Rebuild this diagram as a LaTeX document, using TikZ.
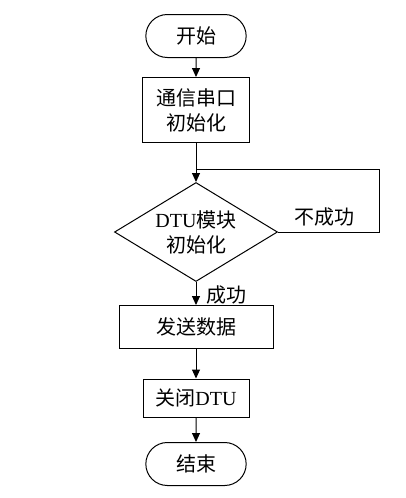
\documentclass[tikz,border=0pt]{standalone}
\usepackage{fontspec}
\setmainfont{Liberation Serif}
\newfontfamily\cjk{Noto Sans CJK SC}
\usetikzlibrary{shapes.geometric,shapes.misc,arrows.meta}

\begin{document}
\begin{tikzpicture}[x=1pt,y=-1pt,line width=1pt,
    every node/.style={font=\fontsize{20}{25}\selectfont\cjk},
    term/.style={draw,rounded rectangle,minimum width=107pt,minimum height=43pt},
    box/.style={draw,rectangle,align=center,inner sep=0pt},
    cond/.style={draw,diamond,aspect=1.65,align=center,inner sep=0pt,minimum width=163pt,minimum height=99pt},
    arr/.style={-{Triangle[length=9pt,width=8pt]}}]
    \useasboundingbox (0,0) rectangle (406,498);
    % flow nodes
    \node[term] (start) at (196,36) {开始};
    \node[box,minimum width=107pt,minimum height=65pt] (init) at (196,110) {通信串口\\初始化};
    \coordinate (join) at (196,169);
    \node[cond] (dtu) at (196,232) {{\rmfamily DTU}模块\\初始化};
    \coordinate (back) at (379,232);
    \node[box,minimum width=154pt,minimum height=43pt] (send) at (196,327) {发送数据};
    \node[box,minimum width=106pt,minimum height=38pt] (close) at (196,398) {关闭{\rmfamily DTU}};
    \node[term] (stop) at (196,464) {结束};
    % labels
    \node (fail) at (324,217) {不成功};
    \node (ok) at (226,295) {成功};
    % connectors
    \draw[arr] (start) -- (init);
    \draw (init) -- (join);
    \draw[arr] (join) -- (dtu);
    \draw (dtu.east) -- (back) |- (join);
    \draw[arr] (dtu) -- (send);
    \draw[arr] (send) -- (close);
    \draw[arr] (close) -- (stop);
\end{tikzpicture}
\end{document}
